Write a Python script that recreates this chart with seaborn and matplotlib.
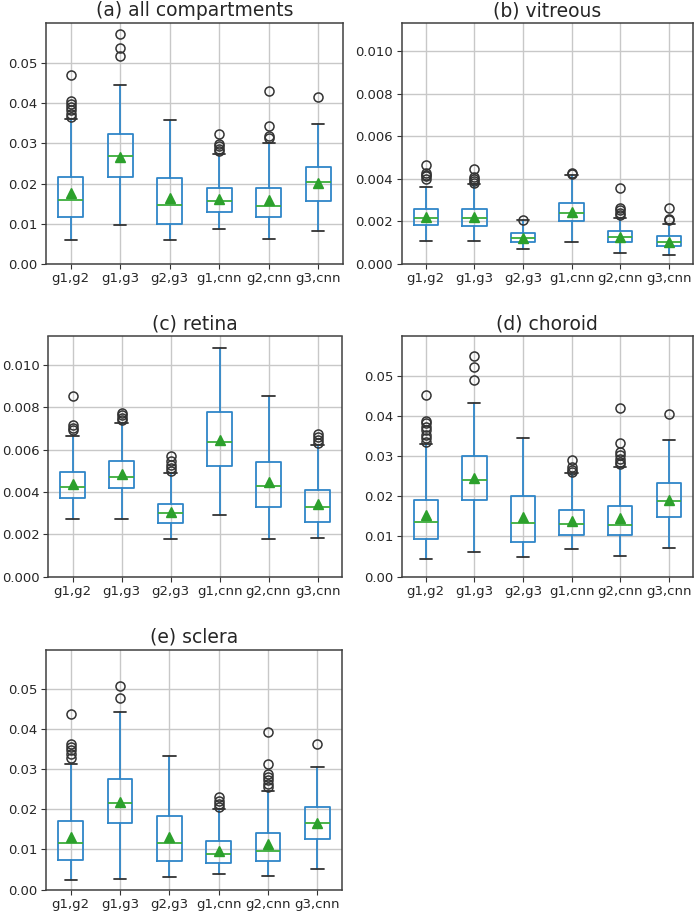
import matplotlib
matplotlib.use("Agg")
import matplotlib.pyplot as plt
import seaborn as sns

# pair labels (x axis)
pairs = ["g1,g2", "g1,g3", "g2,g3", "g1,cnn", "g2,cnn", "g3,cnn"]

# (a) all compartments - box stats
all_low = [0.0060, 0.0096, 0.0059, 0.0088, 0.0063, 0.0081]
all_q1 = [0.0117, 0.0215, 0.0099, 0.0130, 0.0116, 0.0157]
all_med = [0.0160, 0.0268, 0.0147, 0.0156, 0.0143, 0.0203]
all_q3 = [0.0217, 0.0322, 0.0213, 0.0190, 0.0190, 0.0242]
all_high = [0.0360, 0.0446, 0.0358, 0.0274, 0.0301, 0.0348]
all_mean = [0.0177, 0.0267, 0.0163, 0.0162, 0.0159, 0.0201]
all_out = [[0.0366, 0.0372, 0.0382, 0.0390, 0.0398, 0.0405, 0.0470],
           [0.0517, 0.0538, 0.0572],
           [],
           [0.0280, 0.0287, 0.0293, 0.0298, 0.0324],
           [0.0313, 0.0318, 0.0344, 0.0431],
           [0.0414]]

# (b) vitreous
vit_low = [0.00109, 0.00108, 0.00072, 0.00104, 0.00052, 0.00041]
vit_q1 = [0.00182, 0.00180, 0.00104, 0.00200, 0.00104, 0.00087]
vit_med = [0.00216, 0.00217, 0.00121, 0.00241, 0.00127, 0.00103]
vit_q3 = [0.00258, 0.00261, 0.00147, 0.00285, 0.00156, 0.00132]
vit_high = [0.00362, 0.00375, 0.00205, 0.00418, 0.00218, 0.00190]
vit_mean = [0.00219, 0.00222, 0.00120, 0.00244, 0.00128, 0.00105]
vit_out = [[0.00400, 0.00412, 0.00420, 0.00428, 0.00466],
           [0.00380, 0.00390, 0.00400, 0.00410, 0.00448],
           [0.00208],
           [0.00422, 0.00430],
           [0.00232, 0.00242, 0.00252, 0.00262, 0.00357],
           [0.00205, 0.00212, 0.00262]]

# (c) retina
ret_low = [0.00273, 0.00273, 0.00177, 0.00289, 0.00177, 0.00180]
ret_q1 = [0.00373, 0.00417, 0.00251, 0.00521, 0.00329, 0.00259]
ret_med = [0.00423, 0.00471, 0.00298, 0.00634, 0.00428, 0.00328]
ret_q3 = [0.00496, 0.00548, 0.00344, 0.00776, 0.00540, 0.00408]
ret_high = [0.00665, 0.00724, 0.00490, 0.01082, 0.00853, 0.00621]
ret_mean = [0.00436, 0.00486, 0.00304, 0.00645, 0.00446, 0.00343]
ret_out = [[0.00690, 0.00702, 0.00718, 0.00852],
           [0.00738, 0.00750, 0.00762, 0.00772],
           [0.00498, 0.00512, 0.00528, 0.00545, 0.00568],
           [],
           [],
           [0.00632, 0.00646, 0.00660, 0.00672]]

# (d) choroid
cho_low = [0.0044, 0.0061, 0.0048, 0.0068, 0.0051, 0.0070]
cho_q1 = [0.0094, 0.0190, 0.0087, 0.0104, 0.0103, 0.0148]
cho_med = [0.0137, 0.0242, 0.0134, 0.0130, 0.0128, 0.0188]
cho_q3 = [0.0191, 0.0300, 0.0201, 0.0167, 0.0176, 0.0233]
cho_high = [0.0330, 0.0434, 0.0346, 0.0258, 0.0273, 0.0340]
cho_mean = [0.0154, 0.0245, 0.0149, 0.0138, 0.0145, 0.0190]
cho_out = [[0.0336, 0.0345, 0.0354, 0.0365, 0.0374, 0.0382, 0.0388, 0.0452],
           [0.0490, 0.0522, 0.0551],
           [],
           [0.0261, 0.0267, 0.0273, 0.0290],
           [0.0280, 0.0286, 0.0294, 0.0302, 0.0310, 0.0333, 0.0421],
           [0.0405]]

# (e) sclera
scl_low = [0.0024, 0.0026, 0.0032, 0.0038, 0.0033, 0.0051]
scl_q1 = [0.0074, 0.0165, 0.0071, 0.0067, 0.0070, 0.0126]
scl_med = [0.0117, 0.0217, 0.0117, 0.0089, 0.0096, 0.0166]
scl_q3 = [0.0172, 0.0276, 0.0183, 0.0122, 0.0142, 0.0206]
scl_high = [0.0312, 0.0442, 0.0332, 0.0200, 0.0246, 0.0305]
scl_mean = [0.0131, 0.0218, 0.0131, 0.0097, 0.0114, 0.0167]
scl_out = [[0.0329, 0.0339, 0.0348, 0.0356, 0.0363, 0.0439],
           [0.0478, 0.0509],
           [],
           [0.0207, 0.0214, 0.0222, 0.0230],
           [0.0256, 0.0264, 0.0273, 0.0282, 0.0289, 0.0312, 0.0393],
           [0.0362]]

titles = ["(a) all compartments", "(b) vitreous", "(c) retina",
          "(d) choroid", "(e) sclera"]

sns.set_style("ticks", {"axes.edgecolor": "0.2", "axes.grid": True,
                        "grid.color": "#c8c8c8", "xtick.color": "0.2",
                        "ytick.color": "0.2"})
plt.rcParams["font.family"] = ["DejaVu Sans"]
plt.rcParams["font.size"] = 9.5

fig = plt.figure(figsize=(6.99, 9.13), dpi=100)
W, H = 699, 913

# axes boxes in pixels: left, top, right, bottom
boxes = [(46, 23, 343, 264), (401.5, 23, 693, 264),
         (48, 336.5, 342, 576.5), (401.5, 336.5, 693, 576.5),
         (46, 649.5, 342, 889.5)]

panels = [(all_low, all_q1, all_med, all_q3, all_high, all_mean, all_out),
          (vit_low, vit_q1, vit_med, vit_q3, vit_high, vit_mean, vit_out),
          (ret_low, ret_q1, ret_med, ret_q3, ret_high, ret_mean, ret_out),
          (cho_low, cho_q1, cho_med, cho_q3, cho_high, cho_mean, cho_out),
          (scl_low, scl_q1, scl_med, scl_q3, scl_high, scl_mean, scl_out)]

ytops = [0.0599, 0.01134, 0.01134, 0.0599, 0.0599]
yticks_big = [0, 0.01, 0.02, 0.03, 0.04, 0.05]
yticks_small = [0, 0.002, 0.004, 0.006, 0.008, 0.010]

for i, (stats_in, title) in enumerate(zip(panels, titles)):
    l, t, r, b = boxes[i]
    ax = fig.add_axes([l / W, (H - b) / H, (r - l) / W, (b - t) / H])
    low, q1, med, q3, high, mean, out = stats_in
    stats = []
    for j, lab in enumerate(pairs):
        stats.append({"label": lab, "whislo": low[j], "q1": q1[j],
                      "med": med[j], "q3": q3[j], "whishi": high[j],
                      "mean": mean[j], "fliers": out[j]})
    ax.bxp(stats, showmeans=True, widths=0.5,
           boxprops=dict(color="#2f86c8", linewidth=1.3),
           whiskerprops=dict(color="#2f86c8", linewidth=1.3),
           capprops=dict(color="0.2", linewidth=1.3),
           medianprops=dict(color="#3cae3c", linewidth=1.3),
           meanprops=dict(marker="^", markerfacecolor="#2ca02c",
                          markeredgecolor="#2ca02c", markersize=6.5),
           flierprops=dict(marker="o", markerfacecolor="none",
                           markeredgecolor="0.2", markersize=6.5,
                           markeredgewidth=1.1))
    ax.set_ylim(0, ytops[i])
    if ytops[i] > 0.02:
        ax.set_yticks(yticks_big)
        ax.set_yticklabels(["%.2f" % v for v in yticks_big])
    else:
        ax.set_yticks(yticks_small)
        ax.set_yticklabels(["%.3f" % v for v in yticks_small])
    ax.set_xlim(0.5, 6.5)
    ax.grid(True, color="#c8c8c8", linewidth=1.0)
    ax.set_axisbelow(True)
    ax.tick_params(labelsize=9.5, length=3.5, pad=2.5, labelcolor="0.15")
    for sp in ax.spines.values():
        sp.set_visible(True)
        sp.set_color("0.25")
        sp.set_linewidth(1.1)
    ax.set_title(title, fontsize=13.5, pad=5)

fig.savefig("out.png", dpi=100)
